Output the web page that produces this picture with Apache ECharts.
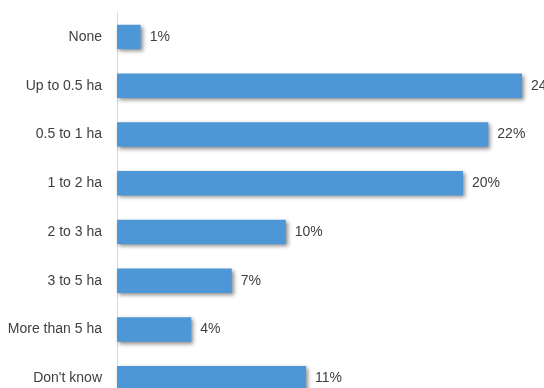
<!DOCTYPE html>
<html>
<head>
<meta charset="utf-8">
<script src="https://cdn.jsdelivr.net/npm/echarts@6/dist/echarts.min.js"></script>
<style>
  html, body { margin: 0; padding: 0; background: #fff; }
  #chart { width: 544px; height: 388px; }
</style>
</head>
<body>
<div id="chart"></div>
<script>
// farm size categories, top to bottom
var categories = ['None', 'Up to 0.5 ha', '0.5 to 1 ha', '1 to 2 ha', '2 to 3 ha', '3 to 5 ha', 'More than 5 ha', "Don't know"];
// share of respondents (%), bar lengths
var shares = [1.4, 24, 22, 20.5, 10, 6.8, 4.4, 11.2];
// printed labels
var shareLabels = ['1%', '24%', '22%', '20%', '10%', '7%', '4%', '11%'];

var chart = echarts.init(document.getElementById('chart'));

var font = '"Liberation Sans Narrow", "Liberation Sans", Arial, sans-serif';

chart.setOption({
    animation: false,
    grid: {
        left: 117, right: 0, top: 12.6, bottom: -14.6,
        containLabel: false,
        outerBoundsMode: 'none'
    },
    xAxis: {
        type: 'value',
        min: 0,
        max: 25.3,
        show: false
    },
    yAxis: {
        type: 'category',
        data: categories,
        inverse: true,
        axisLine: { show: true, lineStyle: { color: '#d9d9d9', width: 1 } },
        axisTick: { show: false },
        axisLabel: { color: '#404040', fontSize: 14, fontFamily: font, margin: 15 }
    },
    series: [{
        type: 'bar',
        data: shares,
        barCategoryGap: '50%',
        itemStyle: {
            color: '#4e97d7',
            shadowColor: 'rgba(0,0,0,0.45)',
            shadowBlur: 4,
            shadowOffsetX: 2,
            shadowOffsetY: 2
        },
        label: {
            show: true,
            position: 'right',
            distance: 9,
            color: '#404040',
            fontSize: 14,
            fontFamily: font,
            formatter: function (p) { return shareLabels[p.dataIndex]; }
        }
    }]
});
</script>
</body>
</html>
